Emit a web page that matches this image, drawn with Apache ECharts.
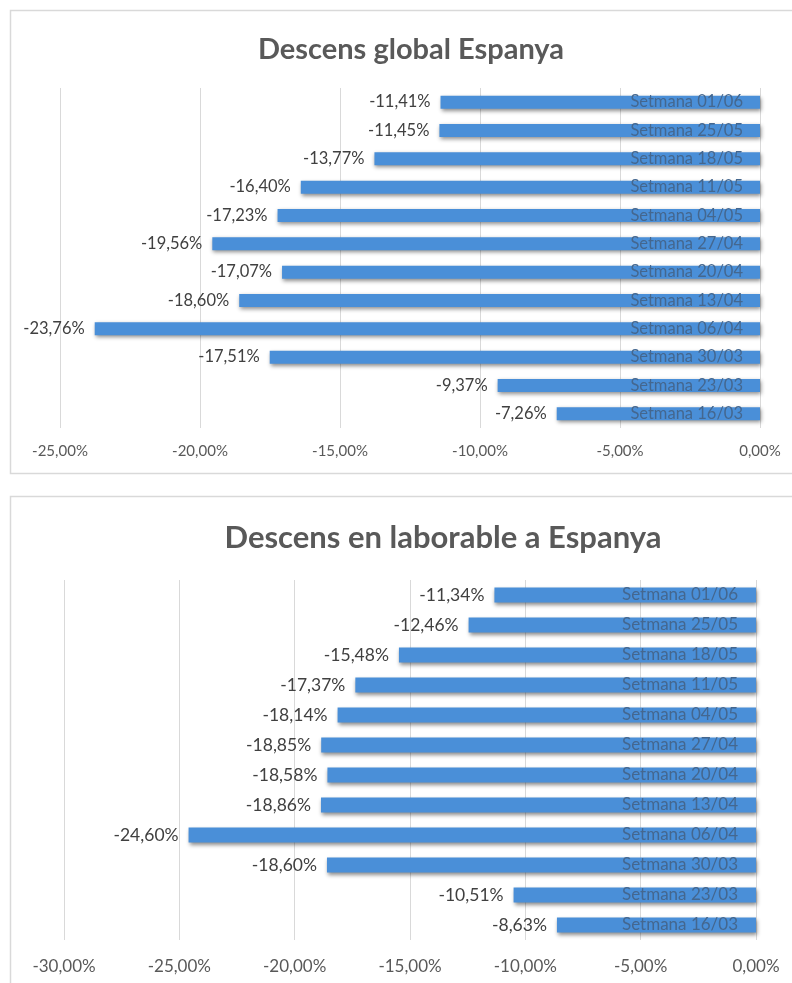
<!DOCTYPE html>
<html><head><meta charset="utf-8">
<script src="https://cdn.jsdelivr.net/npm/echarts@6/dist/echarts.min.js"></script>
<style>html,body{margin:0;padding:0;background:#fff}#c{width:792px;height:983px}</style>
</head><body><div id="c"></div>
<script>
const categories = ['Setmana 16/03','Setmana 23/03','Setmana 30/03','Setmana 06/04','Setmana 13/04','Setmana 20/04','Setmana 27/04','Setmana 04/05','Setmana 11/05','Setmana 18/05','Setmana 25/05','Setmana 01/06'];
const globalValues = [-7.26,-9.37,-17.51,-23.76,-18.60,-17.07,-19.56,-17.23,-16.40,-13.77,-11.45,-11.41];
const laborableValues = [-8.63,-10.51,-18.60,-24.60,-18.86,-18.58,-18.85,-18.14,-17.37,-15.48,-12.46,-11.34];
const title1 = 'Descens global Espanya';
const title2 = 'Descens en laborable a Espanya';
const axis1Min = -25, axis2Min = -30, axisStep = 5;

const FONT = 'Lato, "Open Sans", sans-serif';
const pct = v => v.toFixed(2).replace('.', ',') + '%';
const chart = echarts.init(document.getElementById('c'));

function xAx(gi, min, margin, fs) {
  return {
    gridIndex: gi, type: 'value', min: min, max: 0, interval: axisStep,
    axisLine: {show: false}, axisTick: {show: false},
    splitLine: {show: true, lineStyle: {color: '#d9d9d9', width: 1}},
    axisLabel: {formatter: pct, color: '#595959', fontSize: fs, fontFamily: FONT, margin: margin}
  };
}
function yAx(gi, fs, margin) {
  return {
    gridIndex: gi, type: 'category', data: categories, position: 'right', z: 10,
    axisLine: {show: false}, axisTick: {show: false}, splitLine: {show: false},
    axisLabel: {inside: true, margin: margin, color: '#44678f', fontSize: fs, fontFamily: FONT}
  };
}
function ser(gi, data, bw, fs) {
  return {
    type: 'bar', xAxisIndex: gi, yAxisIndex: gi, data: data, barWidth: bw,
    itemStyle: {color: '#4a8fd8', shadowColor: 'rgba(0,0,0,0.45)', shadowBlur: 4, shadowOffsetX: 1, shadowOffsetY: 2},
    label: {show: true, position: 'left', distance: 10, formatter: p => pct(p.value), color: '#404040', fontSize: fs, fontFamily: FONT},
    silent: true, animation: false
  };
}

chart.setOption({
  animation: false,
  graphic: [
    {type: 'rect', shape: {x: 10.5, y: 10.5, width: 820, height: 463}, style: {fill: 'none', stroke: '#d9d9d9', lineWidth: 1.5}},
    {type: 'rect', shape: {x: 10.5, y: 496.5, width: 820, height: 520}, style: {fill: 'none', stroke: '#d9d9d9', lineWidth: 1.5}}
  ],
  title: [
    {text: title1, left: 406, top: 30, textAlign: 'center', textStyle: {fontFamily: FONT, fontWeight: 'bold', fontSize: 29, color: '#595959'}},
    {text: title2, left: 438, top: 517, textAlign: 'center', textStyle: {fontFamily: FONT, fontWeight: 'bold', fontSize: 31, color: '#595959'}}
  ],
  grid: [
    {left: 60, width: 700, top: 88, height: 340},
    {left: 64, width: 692, top: 580, height: 360}
  ],
  xAxis: [xAx(0, axis1Min, 16, 15), xAx(1, axis2Min, 18, 17)],
  yAxis: [yAx(0, 16.5, 17), yAx(1, 17, 18)],
  series: [ser(0, globalValues, 13, 16.5), ser(1, laborableValues, 15, 17.5)]
});
</script></body></html>
